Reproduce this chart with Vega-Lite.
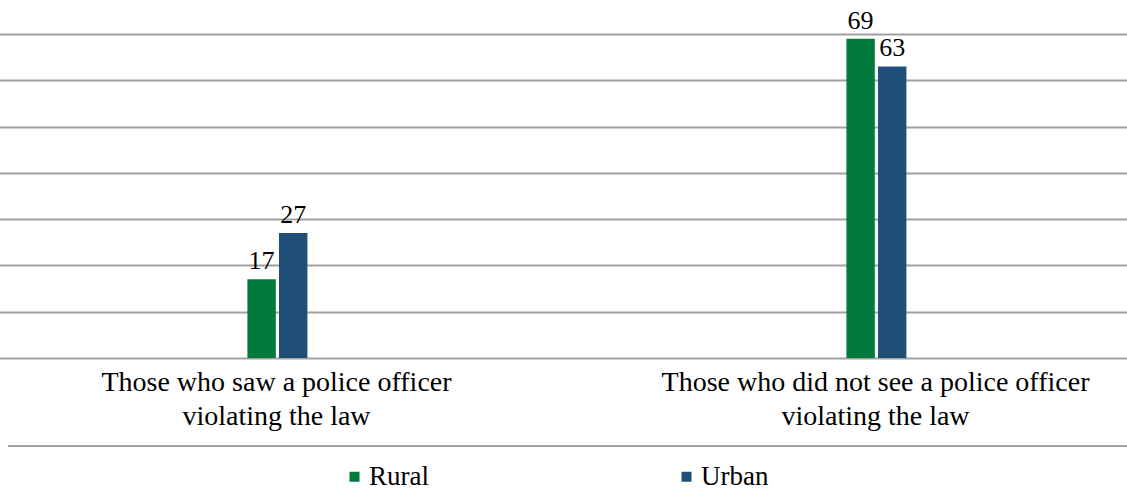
{
  "$schema": "https://vega.github.io/schema/vega-lite/v6.json",
  "autosize": {"type": "none"},
  "width": 1119,
  "height": 324,
  "padding": {"left": 8, "top": 34, "right": 0, "bottom": 139},
  "background": "white",
  "config": {"view": {"stroke": null}, "font": "Liberation Serif"},
  "layer": [
    {
      "data": {"values": [
        {"group": "Those who saw a police officer violating the law", "area": "Rural", "value": 17},
        {"group": "Those who saw a police officer violating the law", "area": "Urban", "value": 27},
        {"group": "Those who did not see a police officer violating the law", "area": "Rural", "value": 69},
        {"group": "Those who did not see a police officer violating the law", "area": "Urban", "value": 63}
      ]},
      "encoding": {
        "x": {
          "field": "group", "type": "nominal", "sort": null,
          "scale": {"range": [-31, 1167], "paddingInner": 0, "paddingOuter": 0},
          "axis": {
            "title": null, "domain": false, "ticks": false, "labelAngle": 0,
            "labelFont": "Liberation Serif", "labelFontSize": 28, "labelColor": "#000000",
            "labelPadding": 10, "labelLineHeight": 34, "labelLimit": 0,
            "labelExpr": "datum.label == 'Those who saw a police officer violating the law' ? ['Those who saw a police officer', 'violating the law'] : ['Those who did not see a police officer', 'violating the law']"
          }
        },
        "xOffset": {"field": "area", "type": "nominal", "scale": {"range": [270.4, 330.4], "paddingInner": 0.1, "paddingOuter": 0}},
        "y": {
          "field": "value", "type": "quantitative",
          "scale": {"domain": [0, 70], "nice": false, "zero": true},
          "axis": {
            "title": null, "labels": false, "ticks": false, "domain": false, "grid": true,
            "values": [0, 10, 20, 30, 40, 50, 60, 70],
            "gridColor": "#a0a0a0", "gridWidth": 2
          }
        },
        "color": {
          "field": "area", "type": "nominal",
          "scale": {"domain": ["Rural", "Urban"], "range": ["#007A3D", "#1F4E79"]},
          "legend": {
            "orient": "none", "legendX": 333, "legendY": 429, "direction": "horizontal",
            "title": null, "symbolType": "square", "symbolSize": 100, "symbolStrokeWidth": 0,
            "labelFont": "Liberation Serif", "labelFontSize": 27, "labelColor": "#000000",
            "labelOffset": 1, "columnPadding": 244
          }
        }
      },
      "layer": [
        {"mark": {"type": "bar"}},
        {
          "mark": {"type": "text", "baseline": "alphabetic", "dy": -10, "fontSize": 26, "font": "Liberation Serif", "color": "#000000"},
          "encoding": {"text": {"field": "value", "type": "quantitative"}, "color": {"value": "#000000"}}
        }
      ]
    },
    {
      "data": {"values": [{"v": -19}]},
      "mark": {"type": "rule", "color": "#a0a0a0", "strokeWidth": 2},
      "encoding": {
        "y": {"field": "v", "type": "quantitative", "scale": {"domain": [0, 70], "nice": false}}
      }
    }
  ]
}
